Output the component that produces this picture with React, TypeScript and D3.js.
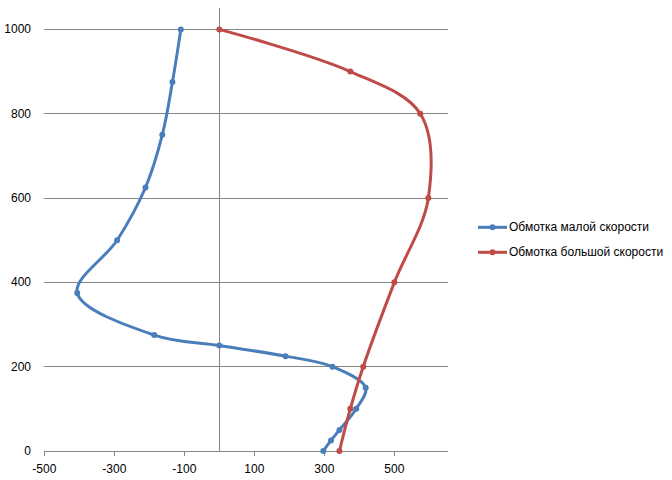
import React from "react";
import { scaleLinear, line, curveCatmullRom } from "d3";

// Обмотка малой скорости
const lowY = [0, 25, 50, 100, 150, 200, 225, 250, 275, 375, 500, 625, 750, 875, 1000];
const lowX = [297, 319, 343, 391, 418, 323, 189, 0, -186, -406, -292, -211, -163, -134, -110];

// Обмотка большой скорости
const highY = [0, 100, 200, 400, 600, 800, 900, 1000];
const highX = [343, 374, 411, 500, 597, 574, 374, 0];

const xTicks = [-500, -300, -100, 100, 300, 500];
const yTicks = [0, 200, 400, 600, 800, 1000];

const seriesNames = ["Обмотка малой скорости", "Обмотка большой скорости"];
const colors = ["#4A7EBB", "#BE4B48"];

const width = 672;
const height = 480;
const font = "'Liberation Sans', Arial, sans-serif";

const App: React.FC = () => {
  const x = scaleLinear().domain([-500, 654]).range([44.3, 448.3]);
  const y = scaleLinear().domain([0, 1050]).range([451, 8.3]);

  const series = [
    lowX.map((v, i) => [v, lowY[i]] as [number, number]),
    highX.map((v, i) => [v, highY[i]] as [number, number]),
  ];

  const path = line<[number, number]>()
    .x((d) => x(d[0]))
    .y((d) => y(d[1]))
    .curve(curveCatmullRom.alpha(0.5));

  const grid = "#868686";

  return (
    <svg
      width={width}
      height={height}
      style={{ position: "absolute", left: 0, top: 0, background: "#fff" }}
      fontFamily={font}
    >
      {/* horizontal gridlines */}
      {yTicks.map((t) => (
        <line
          key={t}
          x1={x(-500)}
          x2={x(654)}
          y1={y(t)}
          y2={y(t)}
          stroke={grid}
          strokeWidth={1}
          shapeRendering="crispEdges"
        />
      ))}
      {/* vertical axis at x = 0 */}
      <line
        x1={x(0)}
        x2={x(0)}
        y1={y(1050)}
        y2={y(0)}
        stroke={grid}
        shapeRendering="crispEdges"
      />
      {/* x tick marks */}
      {xTicks.map((t) => (
        <line
          key={t}
          x1={x(t)}
          x2={x(t)}
          y1={y(0)}
          y2={y(0) + 5}
          stroke={grid}
          shapeRendering="crispEdges"
        />
      ))}
      {xTicks.map((t) => (
        <text key={t} x={x(t)} y={y(0) + 22} textAnchor="middle" fontSize={12} fill="#000">
          {t}
        </text>
      ))}
      {yTicks.map((t) => (
        <text key={t} x={31} y={y(t) + 4} textAnchor="end" fontSize={12} fill="#000">
          {t}
        </text>
      ))}

      {series.map((s, i) => (
        <g key={i}>
          <path d={path(s) || ""} fill="none" stroke={colors[i]} strokeWidth={3} strokeLinejoin="round" />
          {s.map((d, j) => (
            <circle key={j} cx={x(d[0])} cy={y(d[1])} r={3} fill={colors[i]} />
          ))}
        </g>
      ))}

      {/* legend */}
      {seriesNames.map((n, i) => (
        <g key={n} transform={`translate(478,${227.3 + i * 25})`}>
          <line x1={0} x2={29} y1={0} y2={0} stroke={colors[i]} strokeWidth={3} />
          <circle cx={14.5} cy={0} r={3} fill={colors[i]} />
          <text x={31} y={4} fontSize={12} fill="#000">
            {n}
          </text>
        </g>
      ))}
    </svg>
  );
};

export default App;
